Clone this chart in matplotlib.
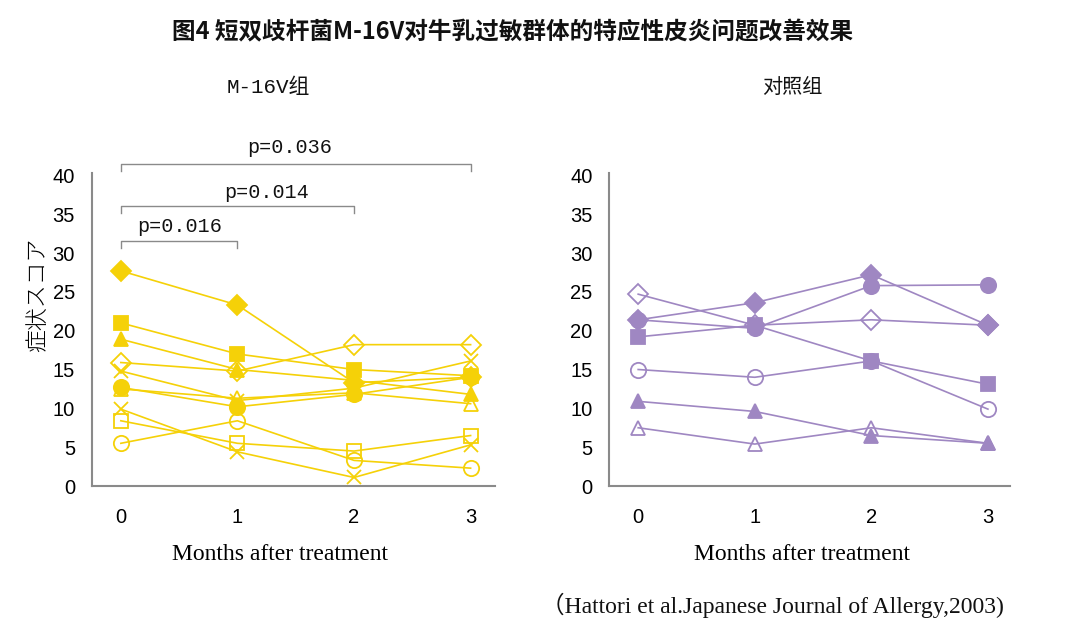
import matplotlib
matplotlib.use("Agg")
import matplotlib.pyplot as plt

# ---------------- data ----------------
months = [0, 1, 2, 3]
month_labels = ["0", "1", "2", "3"]
y_ticks = [0, 5, 10, 15, 20, 25, 30, 35, 40]

# M-16V group (yellow)
m16v_filled_diamond = [27.7, 23.3, 13.3, 14.0]
m16v_filled_square = [21.0, 17.0, 15.0, 14.2]
m16v_filled_triangle = [18.9, 15.0, 13.6, 11.8]
m16v_open_diamond = [15.9, 14.8, 18.2, 18.2]
m16v_cross_a = [14.8, 11.0, 12.6, 16.1]
m16v_filled_circle = [12.7, 10.2, 11.8, 14.0]
m16v_open_triangle = [12.5, 11.3, 12.0, 10.6]
m16v_cross_b = [9.9, 4.4, 1.1, 5.3]
m16v_open_square = [8.4, 5.5, 4.5, 6.5]
m16v_open_circle = [5.5, 8.4, 3.3, 2.3]

# Control group (purple)
ctrl_open_diamond = [24.7, 20.7, 21.4, 20.7]
ctrl_filled_diamond = [21.4, 23.6, 27.2, 20.7]
ctrl_filled_circle = [21.4, 20.3, 25.8, 25.9]
ctrl_filled_square = [19.2, 20.7, 16.1, 13.1]
ctrl_open_circle = [15.0, 14.0, 16.1, 9.9]
ctrl_filled_triangle = [10.9, 9.6, 6.5, 5.5]
ctrl_open_triangle = [7.5, 5.4, 7.5, 5.5]

title = "图4 短双歧杆菌M-16V对牛乳过敏群体的特应性皮炎问题改善效果"
left_title = "M-16V组"
right_title = "对照组"
ylabel = "症状スコア"
xlabel = "Months after treatment"
source = "（Hattori et al.Japanese Journal of Allergy,2003)"
p_labels = ["p=0.016", "p=0.014", "p=0.036"]
p_ends = [1, 2, 3]

YELLOW = "#F5D108"
PURPLE = "#9F87C2"
SPINE = "#8a8a8a"

CJK = ["Noto Sans CJK SC", "DejaVu Sans"]
MONO_CJK = ["Liberation Mono", "Noto Sans CJK SC"]

fig = plt.figure(figsize=(10.70, 6.33), dpi=100)
fig.patch.set_facecolor("white")

axL = fig.add_axes([0.0857, 0.2322, 0.377, 0.4945])
axR = fig.add_axes([0.5692, 0.2322, 0.3748, 0.4945])


def style(ax, xmax, xlab_x):
    ax.set_xlim(-0.25, xmax)
    ax.set_ylim(0, 40.3)
    for s in ["top", "right"]:
        ax.spines[s].set_visible(False)
    for s in ["left", "bottom"]:
        ax.spines[s].set_color(SPINE)
        ax.spines[s].set_linewidth(1.5)
    ax.set_xticks(months)
    ax.set_xticklabels(month_labels, fontfamily="Liberation Sans", fontsize=14.5)
    ax.set_yticks(y_ticks)
    ax.set_yticklabels([str(v) for v in y_ticks], fontfamily="Liberation Sans", fontsize=14.5)
    ax.tick_params(axis="both", length=0)
    ax.tick_params(axis="y", pad=12)
    ax.tick_params(axis="x", pad=16)
    ax.set_xlabel(xlabel, fontfamily="Liberation Serif", fontsize=17)
    ax.xaxis.set_label_coords(xlab_x, -0.185)


def series(ax, vals, color, marker, filled, ms):
    if marker == "x":
        ax.plot(months, vals, color=color, lw=1.2, marker="x", ms=ms,
                mew=1.3, clip_on=False, zorder=3)
    else:
        ax.plot(months, vals, color=color, lw=1.2, marker=marker, ms=ms,
                mfc=color if filled else "none", mec=color, mew=1.3,
                clip_on=False, zorder=3)


style(axL, 3.21, 0.467)
style(axR, 3.19, 0.481)

# left panel
series(axL, m16v_open_circle, YELLOW, "o", False, 11)
series(axL, m16v_open_square, YELLOW, "s", False, 10)
series(axL, m16v_cross_b, YELLOW, "x", False, 10)
series(axL, m16v_open_triangle, YELLOW, "^", False, 10)
series(axL, m16v_filled_circle, YELLOW, "o", True, 11)
series(axL, m16v_cross_a, YELLOW, "x", False, 10)
series(axL, m16v_open_diamond, YELLOW, "D", False, 10)
series(axL, m16v_filled_triangle, YELLOW, "^", True, 10)
series(axL, m16v_filled_square, YELLOW, "s", True, 10)
series(axL, m16v_filled_diamond, YELLOW, "D", True, 10)

# right panel
series(axR, ctrl_open_triangle, PURPLE, "^", False, 10)
series(axR, ctrl_filled_triangle, PURPLE, "^", True, 10)
series(axR, ctrl_open_circle, PURPLE, "o", False, 11)
series(axR, ctrl_filled_square, PURPLE, "s", True, 10)
series(axR, ctrl_filled_circle, PURPLE, "o", True, 11)
series(axR, ctrl_open_diamond, PURPLE, "D", False, 10)
series(axR, ctrl_filled_diamond, PURPLE, "D", True, 10)

# significance brackets
br_y = [31.6, 36.0, 41.4]
txt_y = [33.4, 37.8, 43.6]
txt_x = [0.5, 1.25, 1.45]
for lab, end, by, ty, tx in zip(p_labels, p_ends, br_y, txt_y, txt_x):
    axL.plot([0, 0, end, end], [by - 0.9, by, by, by - 0.9], color=SPINE,
             lw=1.0, clip_on=False)
    axL.text(tx, ty, lab, ha="center", va="center", fontsize=14.5,
             family=MONO_CJK, color="#111111", clip_on=False)

axL.set_ylabel(ylabel, family=["Noto Sans CJK JP", "DejaVu Sans"], fontsize=16.5,
               fontweight="light")
axL.yaxis.set_label_coords(-0.103, 0.61)

fig.text(0.479, 0.949, title, ha="center", va="center", fontsize=17,
         family=CJK, fontweight="bold", color="#111111")
fig.text(0.2505, 0.862, left_title, ha="center", va="center", fontsize=15,
         family=MONO_CJK, color="#111111")
fig.text(0.740, 0.862, right_title, ha="center", va="center", fontsize=14.5,
         family=CJK, color="#111111")
fig.text(0.938, 0.044, source, ha="right", va="center", fontsize=17,
         family=["Liberation Serif", "Noto Sans CJK SC"], color="#111111")

fig.savefig("out.png", dpi=100, facecolor="white")
